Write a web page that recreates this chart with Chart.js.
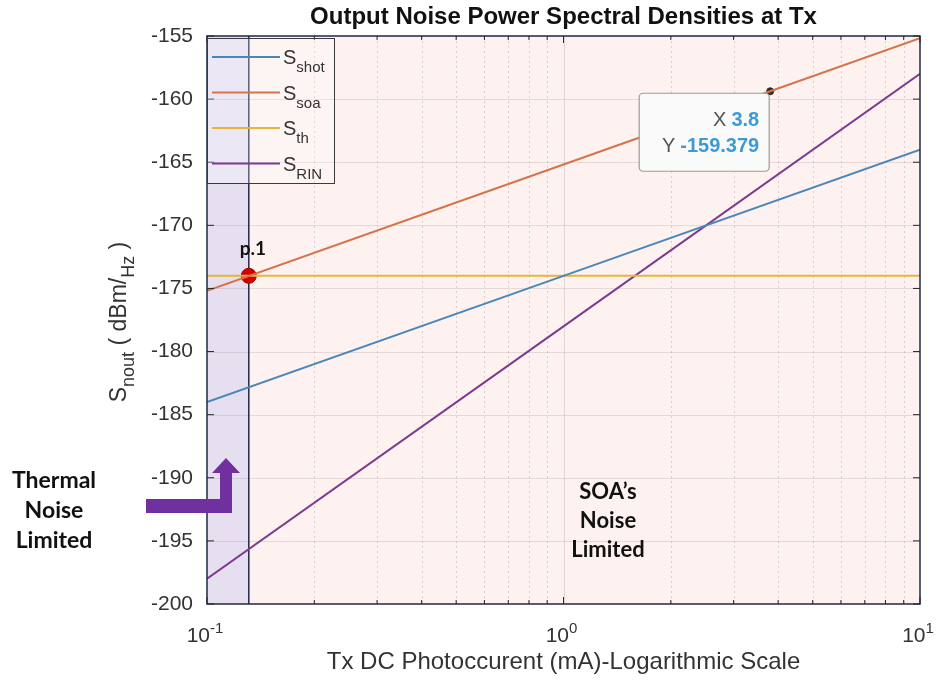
<!DOCTYPE html>
<html>
<head>
<meta charset="utf-8">
<title>Output Noise Power Spectral Densities at Tx</title>
<script src="https://cdn.jsdelivr.net/npm/chart.js@4.4.0/dist/chart.umd.min.js"></script>
<style>
  html, body { margin: 0; padding: 0; background: #fff; }
  #caixa { width: 940px; height: 681px; }
</style>
</head>
<body>
<div id="caixa"><canvas id="grafico_ruido" width="940" height="681"></canvas></div>
<script>
// corrente em mA (eixo log) e densidades de ruido em dBm/Hz
const corrente = [0.1, 1, 10];
const sShot = [-184, -174, -164];
const sTh = [-174, -174, -174];
const sRin = [-198, -178, -158];
const correnteSoa = [0.1, 1, 3.8, 10];
const sSoa = [-175.18, -165.18, -159.379, -155.18];

const nomes = ['shot', 'soa', 'th', 'RIN'];
const cores = ['#4a86b8', '#d5744c', '#e8b43c', '#7d3a8f'];

// ponto p.1 (S_soa cruza S_th)
const p1X = [0.131];
const p1Y = [-174];

// data tip
const dicaX = [3.8];
const dicaY = [-159.379];

const xTicks = [0.1, 1, 10];
const xExpoentes = ['-1', '0', '1'];

const fonteEixo = '"Liberation Sans", Arial, sans-serif';
const fonteNota = 'Lato, "Open Sans", sans-serif';

function pares(xs, ys) {
    return xs.map((x, i) => ({ x: x, y: ys[i] }));
}

function linha(nome, xs, ys, cor) {
    return {
        label: nome,
        data: pares(xs, ys),
        showLine: true,
        borderColor: cor,
        backgroundColor: cor,
        borderWidth: 2,
        pointRadius: 0,
        tension: 0
    };
}

// texto com subscritos/sobrescritos: partes = [[texto, deslocamento], ...]
function textoComposto(ctx, partes, x, y, tam, tamMenor, alinhar) {
    let largura = 0;
    partes.forEach(p => {
        ctx.font = (p[1] ? tamMenor : tam) + 'px ' + fonteEixo;
        largura += ctx.measureText(p[0]).width;
    });
    let cx = alinhar === 'center' ? x - largura / 2 : x;
    ctx.textAlign = 'left';
    ctx.textBaseline = 'alphabetic';
    partes.forEach(p => {
        ctx.font = (p[1] ? tamMenor : tam) + 'px ' + fonteEixo;
        ctx.fillText(p[0], cx, y + (p[1] || 0));
        cx += ctx.measureText(p[0]).width;
    });
}

const fundo = {
    id: 'fundo',
    beforeDatasetsDraw(chart) {
        const { ctx, chartArea: a, scales: { x, y } } = chart;
        ctx.save();
        ctx.fillStyle = '#fdf2ef';
        ctx.fillRect(a.left, a.top, a.right - a.left, a.bottom - a.top);

        // regiao limitada pelo ruido termico
        const xp = x.getPixelForValue(p1X[0]);
        ctx.fillStyle = '#e6dff0';
        ctx.fillRect(a.left, a.top, xp - a.left, a.bottom - a.top);

        // grade horizontal
        ctx.strokeStyle = 'rgba(120,100,100,0.18)';
        ctx.lineWidth = 1;
        for (let v = -195; v <= -160; v += 5) {
            const py = Math.round(y.getPixelForValue(v)) + 0.5;
            ctx.beginPath();
            ctx.moveTo(a.left, py);
            ctx.lineTo(a.right, py);
            ctx.stroke();
        }
        // grade vertical (log)
        for (let d = 0.1; d < 10; d *= 10) {
            for (let k = 1; k < 10; k++) {
                const v = d * k;
                if (v <= 0.1) continue;
                const px = Math.round(x.getPixelForValue(v)) + 0.5;
                ctx.beginPath();
                if (k === 1) {
                    ctx.setLineDash([]);
                    ctx.strokeStyle = 'rgba(120,100,100,0.2)';
                } else {
                    ctx.setLineDash([2, 3]);
                    ctx.strokeStyle = 'rgba(120,100,100,0.25)';
                }
                ctx.moveTo(px, a.top);
                ctx.lineTo(px, a.bottom);
                ctx.stroke();
            }
        }
        ctx.setLineDash([]);

        // linha vertical em p.1
        ctx.strokeStyle = '#1e2848';
        ctx.lineWidth = 1.5;
        ctx.beginPath();
        ctx.moveTo(xp, a.top);
        ctx.lineTo(xp, a.bottom);
        ctx.stroke();
        ctx.restore();
    }
};

const extras = {
    id: 'extras',
    afterDatasetsDraw(chart) {
        const { ctx, chartArea: a, scales: { x, y } } = chart;
        ctx.save();

        // moldura e marcas internas
        ctx.strokeStyle = '#1e2848';
        ctx.lineWidth = 1.5;
        ctx.strokeRect(a.left, a.top, a.right - a.left, a.bottom - a.top);
        ctx.lineWidth = 1;
        ctx.strokeStyle = '#262626';
        for (let d = 0.1; d <= 10; d *= 10) {
            for (let k = 1; k < 10; k++) {
                const v = d * k;
                if (v > 10.001) break;
                const px = x.getPixelForValue(v);
                const len = k === 1 ? 7 : 4;
                ctx.beginPath();
                ctx.moveTo(px, a.bottom);
                ctx.lineTo(px, a.bottom - len);
                ctx.moveTo(px, a.top);
                ctx.lineTo(px, a.top + len);
                ctx.stroke();
            }
        }
        for (let v = -200; v <= -155; v += 5) {
            const py = y.getPixelForValue(v);
            ctx.beginPath();
            ctx.moveTo(a.left, py);
            ctx.lineTo(a.left + 7, py);
            ctx.moveTo(a.right, py);
            ctx.lineTo(a.right - 7, py);
            ctx.stroke();
        }

        // rotulos do eixo x: 10 com expoente
        ctx.fillStyle = '#333';
        xTicks.forEach((v, i) => {
            textoComposto(ctx, [['10', 0], [xExpoentes[i], -9]], x.getPixelForValue(v) - 2, a.bottom + 38, 21, 15, 'center');
        });

        // titulo
        ctx.fillStyle = '#111';
        ctx.font = 'bold 24px ' + fonteEixo;
        ctx.textAlign = 'center';
        ctx.textBaseline = 'middle';
        ctx.fillText('Output Noise Power Spectral Densities at Tx', (a.left + a.right) / 2, 17);

        // legenda
        const lx = a.left, ly = a.top + 2, lw = 127, lh = 145;
        ctx.fillStyle = 'rgba(255,255,255,0.25)';
        ctx.fillRect(lx, ly, lw, lh);
        ctx.strokeStyle = '#3a3a3a';
        ctx.lineWidth = 1;
        ctx.strokeRect(lx + 0.5, ly + 0.5, lw, lh);
        nomes.forEach((n, i) => {
            const yy = ly + 19 + i * 35.5;
            ctx.strokeStyle = cores[i];
            ctx.lineWidth = 2;
            ctx.beginPath();
            ctx.moveTo(lx + 5, yy);
            ctx.lineTo(lx + 73, yy);
            ctx.stroke();
            ctx.fillStyle = '#333';
            textoComposto(ctx, [['S', 0], [n, 8]], lx + 76, yy + 7, 20, 15, 'left');
        });

        // p.1
        const px1 = x.getPixelForValue(p1X[0]);
        const py1 = y.getPixelForValue(p1Y[0]);
        ctx.fillStyle = '#111';
        ctx.font = 'bold 19px ' + fonteNota;
        ctx.textAlign = 'center';
        ctx.textBaseline = 'middle';
        ctx.fillText('p.1', px1 + 4, py1 - 27);

        // data tip
        const tx = x.getPixelForValue(dicaX[0]);
        const ty = y.getPixelForValue(dicaY[0]);
        const bx = tx - 131, by = ty + 2, bw = 130, bh = 78;
        ctx.beginPath();
        ctx.roundRect(bx, by, bw, bh, 4);
        ctx.fillStyle = '#fbfafa';
        ctx.fill();
        ctx.strokeStyle = '#9a9a9a';
        ctx.lineWidth = 1.2;
        ctx.stroke();
        ctx.textBaseline = 'middle';
        ctx.textAlign = 'right';
        const direita = bx + bw - 10;
        ctx.font = 'bold 20px ' + fonteEixo;
        ctx.fillStyle = '#3d9ad6';
        const vX = String(dicaX[0]);
        const vY = dicaY[0].toFixed(3);
        ctx.fillText(vX, direita, by + 27);
        ctx.fillText(vY, direita, by + 53);
        const wX = ctx.measureText(vX).width;
        const wY = ctx.measureText(vY).width;
        ctx.font = '20px ' + fonteEixo;
        ctx.fillStyle = '#555';
        ctx.fillText('X', direita - wX - 5, by + 27);
        ctx.fillText('Y', direita - wY - 5, by + 53);

        // titulo do eixo y
        ctx.save();
        ctx.translate(119, 322);
        ctx.rotate(-Math.PI / 2);
        ctx.fillStyle = '#333';
        textoComposto(ctx, [['S', 0], ['nout', 8], [' ( dBm/', 0], ['Hz', 8], [' )', 0]], 0, 7, 23, 18, 'center');
        ctx.restore();

        // titulo do eixo x
        ctx.fillStyle = '#333';
        ctx.font = '24px ' + fonteEixo;
        ctx.textAlign = 'center';
        ctx.textBaseline = 'middle';
        ctx.fillText('Tx DC Photoccurent (mA)-Logarithmic Scale', (a.left + a.right) / 2, 662);

        // notas em negrito
        ctx.fillStyle = '#111';
        ctx.font = 'bold 23px ' + fonteNota;
        ['Thermal', 'Noise', 'Limited'].forEach((t, i) => ctx.fillText(t, 54, 481 + i * 30));
        ctx.font = 'bold 22px ' + fonteNota;
        ['SOA\u2019s', 'Noise', 'Limited'].forEach((t, i) => ctx.fillText(t, 608, 492 + i * 29));

        // seta em L
        const sx = a.left, sb = a.bottom;
        ctx.fillStyle = '#7030a0';
        ctx.beginPath();
        ctx.moveTo(sx - 61, sb - 105);
        ctx.lineTo(sx + 13, sb - 105);
        ctx.lineTo(sx + 13, sb - 131);
        ctx.lineTo(sx + 5, sb - 131);
        ctx.lineTo(sx + 19, sb - 146);
        ctx.lineTo(sx + 33, sb - 131);
        ctx.lineTo(sx + 25, sb - 131);
        ctx.lineTo(sx + 25, sb - 91);
        ctx.lineTo(sx - 61, sb - 91);
        ctx.closePath();
        ctx.fill();

        ctx.restore();
    }
};

const contexto = document.getElementById('grafico_ruido').getContext('2d');

const grafico = new Chart(contexto, {
    type: 'scatter',
    data: {
        datasets: [
            linha('S_shot', corrente, sShot, cores[0]),
            linha('S_soa', correnteSoa, sSoa, cores[1]),
            linha('S_th', corrente, sTh, cores[2]),
            linha('S_RIN', corrente, sRin, cores[3]),
            {
                label: 'p.1',
                data: pares(p1X, p1Y),
                pointRadius: 7.5,
                pointBackgroundColor: '#d40000',
                pointBorderColor: '#a80000',
                pointBorderWidth: 1
            },
            {
                label: 'tip',
                data: pares(dicaX, dicaY),
                pointRadius: 3.5,
                pointBackgroundColor: '#2e2e2e',
                pointBorderColor: '#2e2e2e'
            }
        ]
    },
    options: {
        responsive: false,
        animation: false,
        devicePixelRatio: 1,
        layout: { padding: { left: 0, right: 20, top: 36, bottom: 0 } },
        scales: {
            x: {
                type: 'logarithmic',
                min: 0.1,
                max: 10,
                afterFit: (escala) => { escala.height = 77; },
                grid: { display: false },
                border: { display: false },
                ticks: { display: false }
            },
            y: {
                min: -200,
                max: -155,
                afterFit: (escala) => { escala.width = 207; },
                grid: { display: false, drawTicks: false },
                border: { display: false },
                ticks: {
                    stepSize: 5,
                    padding: 14,
                    color: '#333',
                    font: { family: fonteEixo, size: 21 }
                }
            }
        },
        plugins: {
            legend: { display: false },
            tooltip: { enabled: false },
            title: { display: false }
        }
    },
    plugins: [fundo, extras]
});
</script>
</body>
</html>
